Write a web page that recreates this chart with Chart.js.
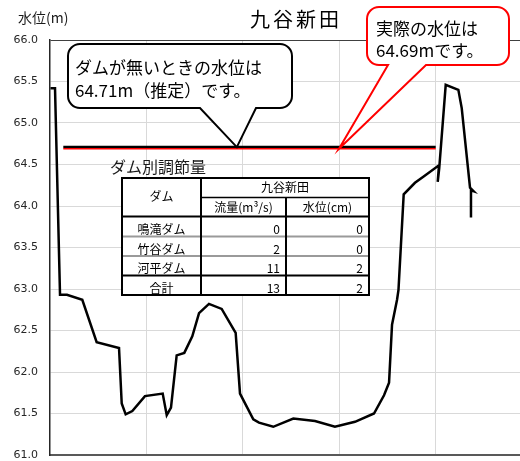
<!DOCTYPE html>
<html><head><meta charset="utf-8">
<script src="https://cdn.jsdelivr.net/npm/chart.js@4/dist/chart.umd.min.js"></script>
<style>
html,body{margin:0;padding:0;overflow:hidden;background:#fff;width:520px;height:461px}
#wrap{position:relative;width:520px;height:461px;overflow:hidden;background:#fff}
canvas{display:block}
</style></head><body>
<div id="wrap"><canvas id="c" width="545" height="470"></canvas></div>
<script>
// ---- data ----
const chartTitle = '九谷新田';
const yAxisUnit = '水位(m)';
const profileX = [0.5, 5.2, 10.4, 17.6, 33.5, 48.4, 71.6, 74.4, 78.5, 85.4, 98.5, 116.9, 121.1, 125.5, 131.4, 139.3, 147.6, 154.6, 164.9, 178.1, 192.6, 197.1, 210.9, 216.8, 231.6, 252.4, 274.9, 295.6, 316.4, 336.1, 346.5, 351.7, 354.8, 360.0, 361.5, 366.9, 378.6, 386.9, 403.5, 402.2, 403.8, 410.5, 423.6, 427.1, 435.7, 439.1, 436.7, 436.7];
const profileY = [65.42, 65.42, 62.93, 62.93, 62.87, 62.36, 62.29, 61.62, 61.49, 61.53, 61.71, 61.74, 61.48, 61.57, 62.20, 62.23, 62.43, 62.71, 62.82, 62.76, 62.47, 61.74, 61.43, 61.39, 61.34, 61.44, 61.41, 61.34, 61.40, 61.50, 61.72, 61.87, 62.57, 62.87, 62.99, 64.14, 64.28, 64.35, 64.49, 64.29, 64.46, 65.46, 65.40, 65.18, 64.22, 64.18, 64.19, 63.86];
const levelX = [13.8, 400.1];
const levelNoDam = [64.71, 64.71];   // ダムが無いときの水位
const levelActual = [64.69, 64.69];  // 実際の水位
const yTicks = [61.0, 61.5, 62.0, 62.5, 63.0, 63.5, 64.0, 64.5, 65.0, 65.5, 66.0];
const calloutNoDam = ['ダムが無いときの水位は', '64.71m（推定）です。'];
const calloutActual = ['実際の水位は', '64.69mです。'];
const tableTitle = 'ダム別調節量';
const tableHeadDam = 'ダム';
const tableHeadSite = '九谷新田';
const tableHeadFlow = '流量(m³/s)';
const tableHeadLevel = '水位(cm)';
const tableDams = ['鳴滝ダム', '竹谷ダム', '河平ダム', '合計'];
const tableFlow = [0, 2, 11, 13];
const tableLevel = [0, 0, 2, 2];

const toPts = (xs, ys) => xs.map((x, i) => ({x: x, y: ys[i]}));
const JP = '"Noto Sans CJK JP", "Noto Sans", sans-serif';

function calloutPath(ctx, x, y, w, h, r, tl, tr, tipX, tipY) {
  ctx.beginPath();
  ctx.moveTo(x + r, y);
  ctx.lineTo(x + w - r, y);
  ctx.arcTo(x + w, y, x + w, y + r, r);
  ctx.lineTo(x + w, y + h - r);
  ctx.arcTo(x + w, y + h, x + w - r, y + h, r);
  ctx.lineTo(tr, y + h);
  ctx.lineTo(tipX, tipY);
  ctx.lineTo(tl, y + h);
  ctx.lineTo(x + r, y + h);
  ctx.arcTo(x, y + h, x, y + h - r, r);
  ctx.lineTo(x, y + r);
  ctx.arcTo(x, y, x + r, y, r);
  ctx.closePath();
}

const overlay = {
  id: 'overlay',
  afterDraw(chart) {
    const ctx = chart.ctx;
    const xs = chart.scales.x, ys = chart.scales.y;
    ctx.save();
    // title
    ctx.fillStyle = '#000';
    ctx.font = '20px ' + JP;
    ctx.textBaseline = 'middle';
    ctx.textAlign = 'left';
    try { ctx.letterSpacing = '3px'; } catch (e) {}
    ctx.fillText(chartTitle, 250, 19);
    try { ctx.letterSpacing = '0px'; } catch (e) {}
    // y unit
    ctx.font = '14px ' + JP;
    ctx.fillStyle = '#1a1a1a';
    ctx.fillText(yAxisUnit, 18, 18);

    // callout: no dam
    const tip1x = xs.getPixelForValue(193.8), tip1y = ys.getPixelForValue(levelNoDam[0]);
    calloutPath(ctx, 68, 44, 224, 64, 12, 200, 256, tip1x, tip1y);
    ctx.fillStyle = '#fff'; ctx.fill();
    ctx.lineWidth = 2; ctx.strokeStyle = '#000'; ctx.lineJoin = 'miter'; ctx.stroke();
    ctx.fillStyle = '#000';
    ctx.font = '17px ' + JP;
    ctx.fillText(calloutNoDam[0], 75, 68);
    ctx.fillText(calloutNoDam[1], 75, 91);

    // callout: actual
    const tip2x = xs.getPixelForValue(299.8), tip2y = ys.getPixelForValue(levelActual[0]);
    calloutPath(ctx, 367, 7, 142, 58, 12, 388, 426, tip2x, tip2y);
    ctx.fillStyle = '#fff'; ctx.fill();
    ctx.lineWidth = 2; ctx.strokeStyle = '#ff0000'; ctx.stroke();
    ctx.fillStyle = '#000';
    ctx.font = '17px ' + JP;
    ctx.fillText(calloutActual[0], 376, 29);
    ctx.fillText(calloutActual[1], 376, 51);

    // table title
    ctx.font = '16px ' + JP;
    ctx.fillStyle = '#1a1a1a';
    ctx.fillText(tableTitle, 110, 167);

    // table
    const cx = [122, 201, 286, 369];
    const ry = [178, 197.5, 216.5, 236.5, 256, 275.5, 295];
    ctx.fillStyle = '#fff';
    ctx.fillRect(cx[0], ry[0], cx[3] - cx[0], ry[6] - ry[0]);
    const hl = (x1, x2, y, c, w) => { ctx.beginPath(); ctx.moveTo(x1, y); ctx.lineTo(x2, y); ctx.strokeStyle = c; ctx.lineWidth = w; ctx.stroke(); };
    const vl = (x, y1, y2, c, w) => { ctx.beginPath(); ctx.moveTo(x, y1); ctx.lineTo(x, y2); ctx.strokeStyle = c; ctx.lineWidth = w; ctx.stroke(); };
    hl(cx[0], cx[3], ry[3], '#9a9a9a', 2);
    hl(cx[0], cx[3], ry[4], '#9a9a9a', 2);
    hl(cx[1], cx[3], ry[1], '#000', 1.5);
    hl(cx[0], cx[3], ry[2], '#000', 2);
    hl(cx[0], cx[3], ry[5], '#000', 2);
    vl(cx[1], ry[0], ry[6], '#000', 2);
    vl(cx[2], ry[1], ry[6], '#000', 2);
    ctx.strokeStyle = '#000'; ctx.lineWidth = 2;
    ctx.strokeRect(cx[0], ry[0], cx[3] - cx[0], ry[6] - ry[0]);

    ctx.fillStyle = '#000';
    ctx.font = '12px ' + JP;
    ctx.textAlign = 'center';
    ctx.fillText(tableHeadDam, (cx[0] + cx[1]) / 2, 196);
    ctx.fillText(tableHeadSite, (cx[1] + cx[3]) / 2, 187);
    ctx.fillText(tableHeadFlow, (cx[1] + cx[2]) / 2, 207.5);
    ctx.fillText(tableHeadLevel, (cx[2] + cx[3]) / 2, 207.5);
    for (let i = 0; i < tableDams.length; i++) {
      const yb = ry[i + 3] - 7;
      ctx.textAlign = 'center';
      ctx.fillText(tableDams[i], (cx[0] + cx[1]) / 2, yb);
      ctx.textAlign = 'right';
      ctx.fillText(String(tableFlow[i]), cx[2] - 6, yb);
      ctx.fillText(String(tableLevel[i]), cx[3] - 6, yb);
    }
    ctx.restore();
  }
};

new Chart(document.getElementById('c'), {
  type: 'line',
  data: {
    datasets: [
      { data: toPts(profileX, profileY), borderColor: '#000', borderWidth: 2.5, pointRadius: 0, tension: 0, fill: false, order: 0 },
      { data: toPts(levelX, levelActual), borderColor: '#ff0000', borderWidth: 1.5, pointRadius: 0, tension: 0, fill: false, order: 1 },
      { data: toPts(levelX, levelNoDam), borderColor: '#000', borderWidth: 2.5, pointRadius: 0, tension: 0, fill: false, order: 2 }
    ]
  },
  options: {
    responsive: false,
    devicePixelRatio: 1,
    animation: false,
    layout: { padding: { top: 40, right: 13, bottom: 15, left: 0 } },
    plugins: { legend: { display: false }, tooltip: { enabled: false }, title: { display: false } },
    scales: {
      x: {
        type: 'linear', min: 0, max: 500,
        ticks: { display: false, stepSize: 100 },
        grid: { color: c => (c.tick && c.tick.value === 0) ? 'rgba(0,0,0,0)' : '#d9d9d9', lineWidth: 1, drawTicks: false },
        border: { display: true, color: '#595959', width: 2 }
      },
      y: {
        type: 'linear', min: 61, max: 66,
        afterFit: s => { s.width = 50; s.paddingTop = 0; s.paddingBottom = 0; },
        afterBuildTicks: s => { s.ticks = yTicks.map(v => ({ value: v })); },
        ticks: { padding: 12, color: '#262626', font: { family: '"DejaVu Sans", sans-serif', size: 11 }, callback: v => Number(v).toFixed(1) },
        grid: { color: c => (c.tick && c.tick.value === 66) ? '#404040' : ((c.tick && c.tick.value === 61) ? 'rgba(0,0,0,0)' : '#d9d9d9'), lineWidth: 1, drawTicks: false },
        border: { display: true, color: '#262626', width: 1.5 }
      }
    }
  },
  plugins: [overlay]
});
</script>
</body></html>
